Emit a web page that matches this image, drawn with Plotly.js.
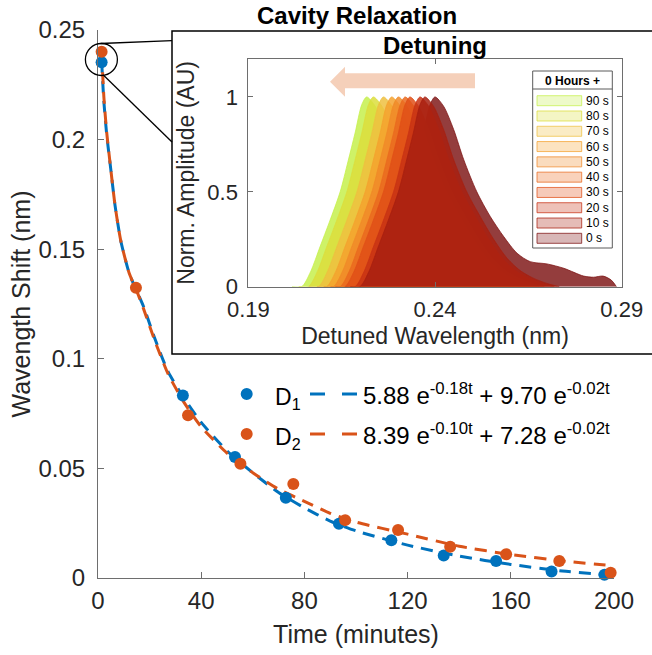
<!DOCTYPE html>
<html>
<head>
<meta charset="utf-8">
<script src="https://cdn.plot.ly/plotly-3.0.1.min.js"></script>
<style>html,body{margin:0;padding:0;background:#fff;}#chart{width:652px;height:655px;}</style>
</head>
<body>
<div id="chart"></div>
<script>
// ---------------- DATA ----------------
// Main plot: wavelength shift vs time
const timeD1  = [1.4, 32.9, 53.1, 72.8, 93.4, 113.7, 134.0, 154.3, 175.8, 196.3];
const shiftD1 = [0.2353, 0.0833, 0.0552, 0.0366, 0.0248, 0.0172, 0.0103, 0.0078, 0.0030, 0.0015];
const timeD2  = [1.4, 14.7, 34.9, 55.2, 75.7, 95.8, 116.3, 136.5, 158.2, 178.8, 198.7];
const shiftD2 = [0.2401, 0.1324, 0.0742, 0.0521, 0.0429, 0.0264, 0.0219, 0.0143, 0.0108, 0.0078, 0.0024];

// Fitted curves
const fitTimeD1  = [1.4, 2.3, 3.4, 4.9, 6.6, 8.8, 12.1, 15.0, 17.6, 22.1, 27.2, 33.4, 40, 50, 60, 70, 80, 90, 100, 120, 140, 160, 180, 196.3];
const fitShiftD1 = [0.236, 0.217, 0.202, 0.187, 0.170, 0.154, 0.139, 0.131, 0.124, 0.109, 0.094, 0.082, 0.071, 0.058, 0.048, 0.039, 0.032, 0.026, 0.0215, 0.0150, 0.0100, 0.0062, 0.0032, 0.0015];
const fitTimeD2  = [1.4, 2.3, 3.4, 4.9, 6.6, 8.8, 12.1, 15.0, 17.6, 22.1, 27.2, 33.4, 40, 50, 60, 70, 80, 90, 100, 120, 140, 160, 180, 198.7];
const fitShiftD2 = [0.240, 0.219, 0.203, 0.187, 0.170, 0.154, 0.139, 0.131, 0.123, 0.108, 0.093, 0.080, 0.069, 0.057, 0.048, 0.0405, 0.035, 0.0295, 0.0255, 0.0200, 0.0145, 0.0107, 0.0078, 0.0057];

const fitLabelD1 = '5.88 e<sup>-0.18t</sup> + 9.70 e<sup>-0.02t</sup>';
const fitLabelD2 = '8.39 e<sup>-0.10t</sup> + 7.28 e<sup>-0.02t</sup>';
const seriesNames = ['D<sub>1</sub>', 'D<sub>2</sub>'];

// Inset: detuning spectra (normalised), one per time step
const spectraLabels = ['90 s', '80 s', '70 s', '60 s', '50 s', '40 s', '30 s', '20 s', '10 s', '0 s'];
const peakWavelength = [0.2217, 0.2235, 0.2262, 0.2284, 0.2302, 0.2320, 0.2333, 0.2360, 0.2373, 0.2400];
// 0 s spectrum: offset from its peak (nm) and normalised amplitude
const profileOffset0 = [-0.0200, -0.0174, -0.0150, -0.0125, -0.0100, -0.0071, -0.0050, -0.0031, -0.0013, 0, 0.0023, 0.0050, 0.0077, 0.0112, 0.0148, 0.0184, 0.0220, 0.0255, 0.0300, 0.0345, 0.0398, 0.0425, 0.0450, 0.0472, 0.0486];
const profileAmp0    = [0, 0, 0.08, 0.21, 0.34, 0.50, 0.66, 0.81, 0.96, 1.0, 0.951, 0.828, 0.669, 0.50, 0.37, 0.264, 0.176, 0.132, 0.120, 0.097, 0.056, 0.050, 0.056, 0.035, 0];
// later spectra (10 s ... 90 s): offset from their peak and amplitude
const profileOffsetLater = [-0.0200, -0.0174, -0.0150, -0.0125, -0.0100, -0.0071, -0.0050, -0.0031, -0.0013, 0, 0.0023, 0.0050, 0.0077, 0.0112, 0.0148, 0.0184, 0.0220, 0.0255, 0.0290, 0.0330, 0.0360];
const profileAmpLater    = [0, 0, 0.08, 0.21, 0.34, 0.50, 0.66, 0.81, 0.96, 1.0, 0.951, 0.828, 0.669, 0.50, 0.37, 0.25, 0.15, 0.085, 0.045, 0.015, 0];

const mainXTicks = [0, 40, 80, 120, 160, 200];
const mainYTicks = [0, 0.05, 0.1, 0.15, 0.2, 0.25];
const mainYTickText = ['0', '0.05', '0.1', '0.15', '0.2', '0.25'];
const insetXTicks = [0.19, 0.24, 0.29];
const insetYTicks = [0, 0.5, 1];
const insetYTickText = ['0', '0.5', '1'];

// ---------------- STYLE ----------------
const FONT = 'Liberation Sans, Arial, Helvetica, sans-serif';
const TXT = '#262626';
const BLUE = '#0072BD', ORANGE = '#D95319';
const specColors = ['#C6F04C', '#DCDE3C', '#EEC040', '#F4A22E', '#F08A28', '#EA6A1E', '#E05018', '#C83214', '#A82010', '#7D1212'];
function rgba(hex, a) {
  const r = parseInt(hex.slice(1, 3), 16), g = parseInt(hex.slice(3, 5), 16), b = parseInt(hex.slice(5, 7), 16);
  return 'rgba(' + r + ',' + g + ',' + b + ',' + a + ')';
}
// pixel -> paper conversion (paper area: x 98..632, y 30..578)
const PL = 98, PR = 632, PT = 30, PB = 578;
const px = x => (x - PL) / (PR - PL);
const py = y => (PB - y) / (PB - PT);

// ---------------- TRACES ----------------
const traces = [];
// inset spectra: 0 s drawn first (bottom), then 90 s ... 10 s
const drawOrder = [9, 0, 1, 2, 3, 4, 5, 6, 7, 8];
drawOrder.forEach(i => {
  const isZero = (i === 9);
  const offs = isZero ? profileOffset0 : profileOffsetLater;
  const amps = isZero ? profileAmp0 : profileAmpLater;
  traces.push({
    x: offs.map(o => peakWavelength[i] + o),
    y: amps,
    xaxis: 'x2', yaxis: 'y2',
    type: 'scatter', mode: 'lines',
    fill: 'tozeroy',
    fillcolor: rgba(specColors[i], isZero ? 0.82 : 0.85),
    line: {color: rgba(specColors[i], 0.95), width: 0.8, shape: 'spline', smoothing: 0.8},
    name: spectraLabels[i], showlegend: false, hoverinfo: 'skip'
  });
});
traces.push({x: fitTimeD1, y: fitShiftD1, type: 'scatter', mode: 'lines', name: 'fit D1',
  line: {color: BLUE, width: 3, dash: '12px,8px', shape: 'spline', smoothing: 0.6}, showlegend: false});
traces.push({x: fitTimeD2, y: fitShiftD2, type: 'scatter', mode: 'lines', name: 'fit D2',
  line: {color: ORANGE, width: 3, dash: '12px,8px', shape: 'spline', smoothing: 0.6}, showlegend: false});
traces.push({x: timeD1, y: shiftD1, type: 'scatter', mode: 'markers', name: 'D1', cliponaxis: false,
  marker: {color: BLUE, size: 12}, showlegend: false});
traces.push({x: timeD2, y: shiftD2, type: 'scatter', mode: 'markers', name: 'D2', cliponaxis: false,
  marker: {color: ORANGE, size: 12}, showlegend: false});

// ---------------- SHAPES & ANNOTATIONS ----------------
const shapes = [];
const annotations = [];

// inset frame (white box)
shapes.push({type: 'rect', xref: 'paper', yref: 'paper', layer: 'below',
  x0: px(172), x1: px(655), y0: py(354), y1: py(31),
  fillcolor: '#ffffff', line: {color: '#000000', width: 1.5}});
// zoom circle and connector lines
shapes.push({type: 'circle', xref: 'paper', yref: 'paper', layer: 'above',
  x0: px(85.4), x1: px(117.4), y0: py(75.5), y1: py(43.5), line: {color: '#000', width: 1.3}});
shapes.push({type: 'line', xref: 'paper', yref: 'paper', layer: 'above',
  x0: px(100.5), y0: py(43.5), x1: px(172), y1: py(40.7), line: {color: '#000', width: 1.3}});
shapes.push({type: 'line', xref: 'paper', yref: 'paper', layer: 'above',
  x0: px(103.3), y0: py(75), x1: px(172), y1: py(142), line: {color: '#000', width: 1.3}});

// big left-pointing arrow in inset
const arrowPts = [[475, 73.3], [345, 73.3], [345, 66.7], [330, 81.7], [345, 96.7], [345, 88.3], [475, 88.3]];
shapes.push({type: 'path', xref: 'paper', yref: 'paper', layer: 'above',
  path: 'M ' + arrowPts.map(p => px(p[0]).toFixed(5) + ',' + py(p[1]).toFixed(5)).join(' L ') + ' Z',
  fillcolor: 'rgba(236,170,130,0.55)', line: {width: 0}});

// titles
annotations.push({xref: 'paper', yref: 'paper', x: px(357), y: py(16), xanchor: 'center', yanchor: 'middle',
  text: '<b>Cavity Relaxation</b>', showarrow: false, font: {family: FONT, size: 24, color: '#000'}});
annotations.push({xref: 'paper', yref: 'paper', x: px(435), y: py(45), xanchor: 'center', yanchor: 'middle',
  text: '<b>Detuning</b>', showarrow: false, font: {family: FONT, size: 24, color: '#000'}});

// main legend (manual)
const legRows = [
  {y: 394, color: BLUE, name: seriesNames[0], label: fitLabelD1},
  {y: 434, color: ORANGE, name: seriesNames[1], label: fitLabelD2}
];
legRows.forEach(r => {
  shapes.push({type: 'circle', xref: 'paper', yref: 'paper', layer: 'above',
    x0: px(240.7), x1: px(252.7), y0: py(r.y + 6), y1: py(r.y - 6), fillcolor: r.color, line: {width: 0}});
  shapes.push({type: 'line', xref: 'paper', yref: 'paper', layer: 'above',
    x0: px(310), x1: px(357), y0: py(r.y), y1: py(r.y), line: {color: r.color, width: 3, dash: '15px,17px'}});
  annotations.push({xref: 'paper', yref: 'paper', x: px(273), y: py(r.y + 4), xanchor: 'left', yanchor: 'middle',
    text: r.name, showarrow: false, font: {family: FONT, size: 23, color: '#000'}});
  annotations.push({xref: 'paper', yref: 'paper', x: px(361), y: py(r.y), xanchor: 'left', yanchor: 'middle',
    text: r.label, showarrow: false, font: {family: FONT, size: 24, color: '#000'}});
});

// inset legend (manual)
const lgX0 = 532.7, lgX1 = 612.3, lgY0 = 71, lgY1 = 248;
shapes.push({type: 'rect', xref: 'paper', yref: 'paper', layer: 'above',
  x0: px(lgX0), x1: px(lgX1), y0: py(lgY1), y1: py(lgY0), fillcolor: '#ffffff', line: {color: '#5a5a5a', width: 1}});
shapes.push({type: 'line', xref: 'paper', yref: 'paper', layer: 'above',
  x0: px(lgX0), x1: px(lgX1), y0: py(89), y1: py(89), line: {color: '#5a5a5a', width: 1}});
annotations.push({xref: 'paper', yref: 'paper', x: px((lgX0 + lgX1) / 2), y: py(80.5), xanchor: 'center', yanchor: 'middle',
  text: '<b>0 Hours +</b>', showarrow: false, font: {family: FONT, size: 12, color: '#000'}});
for (let i = 0; i < spectraLabels.length; i++) {
  const yc = 100.7 + i * 15.29;
  shapes.push({type: 'rect', xref: 'paper', yref: 'paper', layer: 'above',
    x0: px(537), x1: px(581.7), y0: py(yc + 5), y1: py(yc - 5),
    fillcolor: rgba(specColors[i], 0.3), line: {color: rgba(specColors[i], 0.75), width: 1}});
  annotations.push({xref: 'paper', yref: 'paper', x: px(584), y: py(yc), xanchor: 'left', yanchor: 'middle',
    text: spectraLabels[i], showarrow: false, font: {family: FONT, size: 12, color: '#000'}});
}

// ---------------- LAYOUT ----------------
const axisLine = '#6e6e6e';
const layout = {
  width: 652, height: 655,
  margin: {l: PL, r: 652 - PR, t: PT, b: 655 - PB, pad: 0},
  paper_bgcolor: '#ffffff', plot_bgcolor: '#ffffff',
  showlegend: false,
  font: {family: FONT, color: TXT},
  xaxis: {
    domain: [0, (614 - PL) / (PR - PL)], range: [0, 200],
    tickvals: mainXTicks, ticks: 'inside', ticklen: 6, tickcolor: axisLine, tickwidth: 1,
    showline: true, linecolor: axisLine, linewidth: 1, mirror: false,
    showgrid: false, zeroline: false, ticklabelstandoff: 1,
    tickfont: {family: FONT, size: 24, color: TXT},
    title: {text: 'Time (minutes)', font: {family: FONT, size: 25, color: TXT}, standoff: 12}
  },
  yaxis: {
    domain: [0, 1], range: [0, 0.25],
    tickvals: mainYTicks, ticktext: mainYTickText, ticks: 'inside', ticklen: 6, tickcolor: axisLine, tickwidth: 1,
    showline: true, linecolor: axisLine, linewidth: 1, mirror: false,
    showgrid: false, zeroline: false, ticklabelstandoff: 7,
    tickfont: {family: FONT, size: 24, color: TXT},
    title: {text: 'Wavength Shift (nm)', font: {family: FONT, size: 25, color: TXT}, standoff: 0}
  },
  xaxis2: {
    anchor: 'y2', domain: [px(248.3), px(621.7)], range: [0.19, 0.29],
    tickvals: insetXTicks, ticks: 'inside', ticklen: 5, tickcolor: axisLine,
    showline: true, linecolor: axisLine, linewidth: 1, mirror: 'ticks',
    showgrid: false, zeroline: false, ticklabelstandoff: 3,
    tickfont: {family: FONT, size: 22, color: TXT},
    title: {text: 'Detuned Wavelength (nm)', font: {family: FONT, size: 23, color: TXT}, standoff: 6}
  },
  yaxis2: {
    anchor: 'x2', domain: [py(286.7), py(59)], range: [0, 1.2],
    tickvals: insetYTicks, ticktext: insetYTickText, ticks: 'inside', ticklen: 5, tickcolor: axisLine,
    showline: true, linecolor: axisLine, linewidth: 1, mirror: 'ticks',
    showgrid: false, zeroline: false, ticklabelstandoff: 5,
    tickfont: {family: FONT, size: 22, color: TXT},
    title: {text: 'Norm. Amplitude (AU)', font: {family: FONT, size: 23, color: TXT}, standoff: 6}
  },
  shapes: shapes,
  annotations: annotations
};

Plotly.newPlot('chart', traces, layout, {displayModeBar: false, staticPlot: true});
</script>
</body>
</html>
